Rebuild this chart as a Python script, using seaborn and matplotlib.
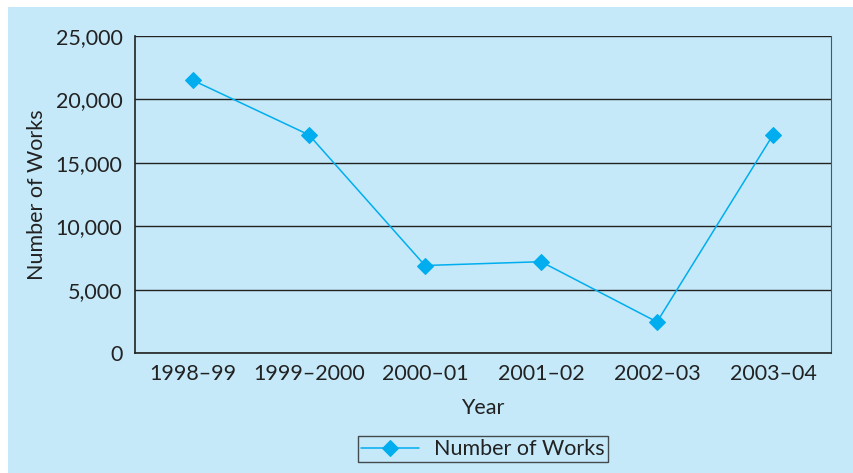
import matplotlib
matplotlib.use("Agg")
import matplotlib.pyplot as plt
import numpy as np
import pandas as pd
import seaborn as sns
from matplotlib.patches import Rectangle

years = ["1998–99", "1999–2000", "2000–01", "2001–02", "2002–03", "2003–04"]
works = [21500, 17200, 6900, 7200, 2450, 17200]
y_ticks = [0, 5000, 10000, 15000, 20000, 25000]

BG = "#C5E9F9"
LINE = "#00AEEF"
INK = "#222222"
FS = 15.5

sns.set_style("white")
plt.rcParams["font.family"] = ["Lato", "DejaVu Sans"]

df = pd.DataFrame({"Year": years, "Number of Works": works})

fig = plt.figure(figsize=(8.54, 4.73), dpi=100, facecolor="white")
fig.patches.append(Rectangle((8 / 854, 0), 1, 1 - 7 / 473, transform=fig.transFigure,
                             facecolor=BG, edgecolor="none", zorder=-10))
ax = fig.add_axes([135 / 854, 1 - 353 / 473, (831 - 135) / 854, (353 - 36) / 473])
ax.set_facecolor(BG)

sns.lineplot(data=df, x="Year", y="Number of Works", ax=ax, color=LINE, linewidth=1.1,
             marker="D", markersize=8, markeredgecolor=LINE, label="Number of Works",
             sort=False)

ax.set_ylim(0, 25000)
ax.set_xlim(-0.5, len(years) - 0.5)
ax.set_yticks(y_ticks)
ax.set_yticklabels([f"{v:,}" for v in y_ticks])
ax.yaxis.grid(True, color=INK, linewidth=1.0)
ax.set_axisbelow(True)

# tick marks at category boundaries, labels at centres
ax.set_xticks(np.arange(-0.5, len(years)))
ax.set_xticklabels([])
ax.set_xticks(np.arange(len(years)), minor=True)
ax.set_xticklabels(years, minor=True)
ax.tick_params(axis="x", which="major", direction="out", length=6, width=1, color=INK)
ax.tick_params(axis="x", which="minor", length=0, pad=8, labelsize=FS, labelcolor=INK)
ax.tick_params(axis="y", direction="out", length=6, width=1, color=INK,
               labelsize=FS, labelcolor=INK, pad=3)

for side in ["left", "bottom"]:
    ax.spines[side].set_color(INK)
    ax.spines[side].set_linewidth(1.2)
ax.spines["right"].set_color("#555555")
ax.spines["top"].set_visible(False)

ax.set_xlabel("Year", fontsize=FS, color=INK, labelpad=10)
ax.set_ylabel("Number of Works", fontsize=FS, color=INK, labelpad=6)

leg = ax.legend(loc="upper center", bbox_to_anchor=(0.5, -0.228), frameon=True,
                fancybox=False, edgecolor=INK, facecolor=BG, fontsize=FS,
                handlelength=2.7, borderpad=0.15, handletextpad=0.7)
leg.get_frame().set_linewidth(1.0)
for t in leg.get_texts():
    t.set_color(INK)

fig.savefig("out.png", dpi=100, facecolor="white")
